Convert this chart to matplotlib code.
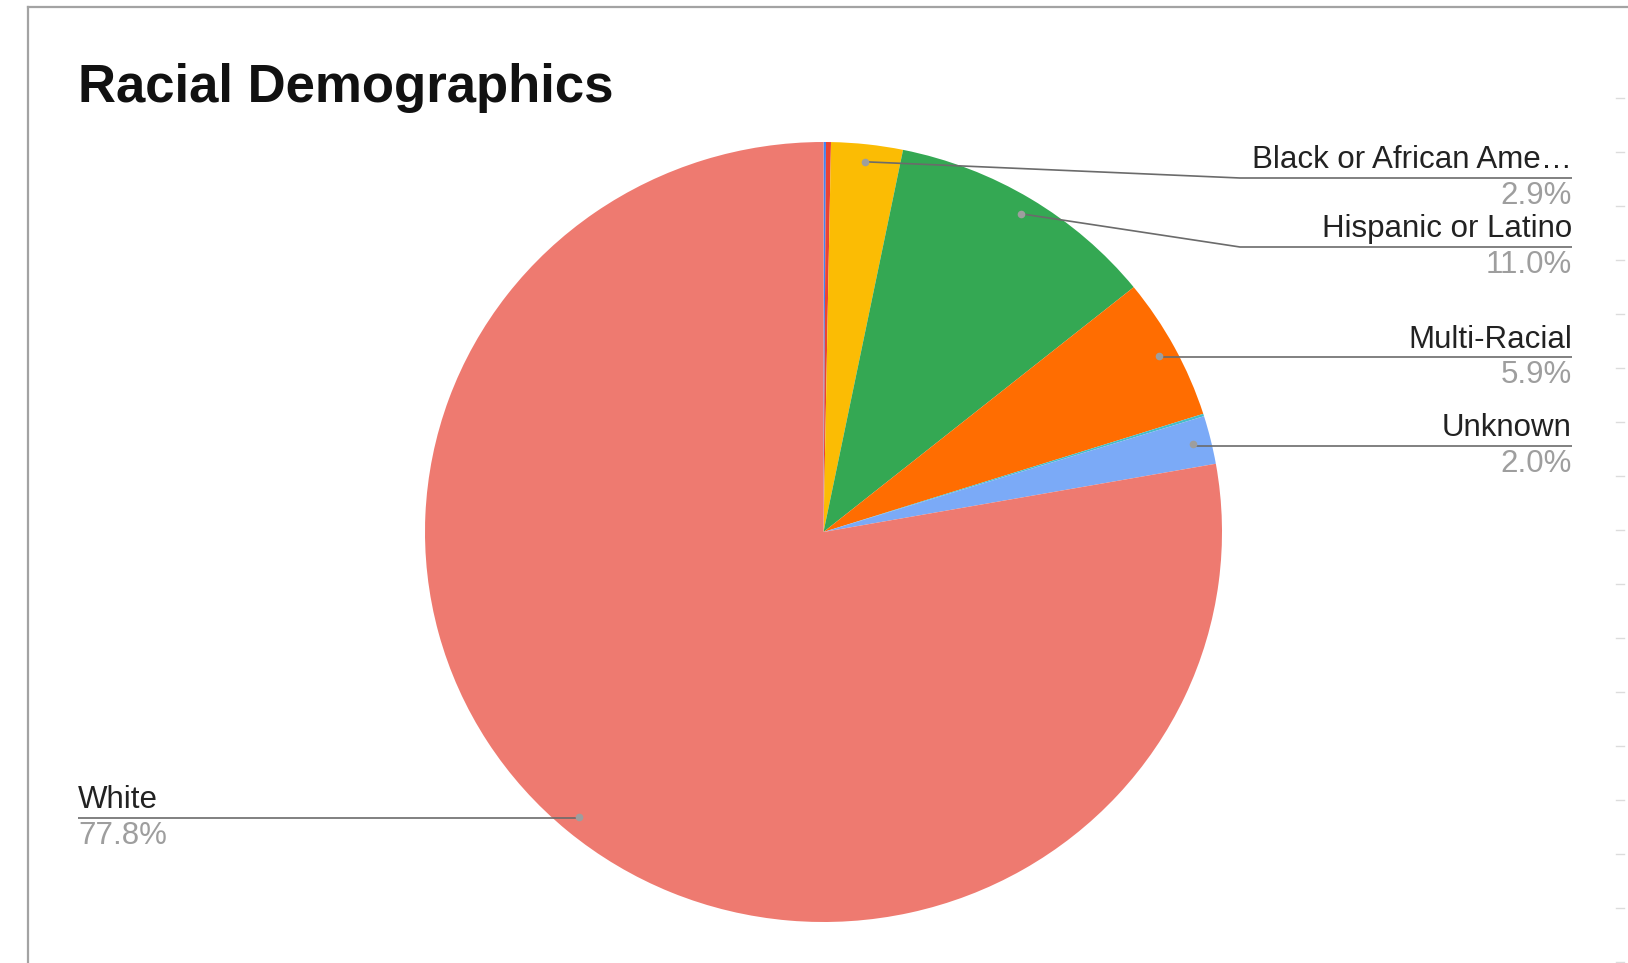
import numpy as np
import matplotlib.pyplot as plt

# data (percent of students), in sheet order
races = ["American Indian or Alaska Native", "Asian", "Black or African American",
         "Hispanic or Latino", "Multi-Racial", "Native Hawaiian or Other Pacific Islander",
         "Unknown", "White"]
shares = [0.1, 0.2, 2.9, 11.0, 5.9, 0.1, 2.0, 77.8]
colors = ["#4285F4", "#EA4335", "#FBBC04", "#34A853", "#FF6D01", "#46BDC6", "#7BAAF7", "#EE7A70"]

W, H = 1628, 963
plt.rcParams['font.family'] = ['Liberation Sans', 'DejaVu Sans']

fig = plt.figure(figsize=(W / 100, H / 100), dpi=100)
fig.patch.set_facecolor("white")

# overlay in pixel coordinates (y down) for frame, title and labels
over = fig.add_axes([0, 0, 1, 1], zorder=2)
over.set_xlim(0, W)
over.set_ylim(H, 0)
over.axis("off")

# pie box in pixels: left, top, right, bottom
px0, py0, px1, py1 = 425, 142, 1222, 922
ax = fig.add_axes([px0 / W, (H - py1) / H, (px1 - px0) / W, (py1 - py0) / H], zorder=1)
wedges, _ = ax.pie(shares, colors=colors, startangle=90, counterclock=False, radius=1)
ax.set_aspect("auto")
ax.set_xlim(-1, 1)
ax.set_ylim(-1, 1)
ax.axis("off")

# chart frame (screenshot border)
over.plot([28, 28], [7, H], color="#a3a3a3", lw=1.6, clip_on=False)
over.plot([28, W], [7, 7], color="#a3a3a3", lw=1.6, clip_on=False)
for y in np.arange(98, H, 54):
    over.plot([W - 12, W - 4], [y, y], color="#dcdcdc", lw=1)

over.text(78, 102, "Racial Demographics", fontsize=38, fontweight="bold",
          color="#111111", ha="left", va="baseline")

# label layout: y of the underline for each labelled slice, and the bend x
line_y = {"Black or African American": 178, "Hispanic or Latino": 247,
          "Multi-Racial": 357, "Unknown": 446, "White": 818}
right_x, left_x, bend_x = 1572, 78, 1240

fig.canvas.draw()
to_over = over.transData.inverted()
for w, name, val in zip(wedges, races, shares):
    if val < 1:
        continue
    mid = np.deg2rad((w.theta1 + w.theta2) / 2)
    dx, dy = ax.transData.transform((0.955 * np.cos(mid), 0.955 * np.sin(mid)))
    x, y = to_over.transform((dx, dy))
    ly = line_y[name]
    label = name if len(name) <= 20 else name[:20] + "…"
    if x > (px0 + px1) / 2:
        if abs(y - ly) > 3:
            xs, ys = [x, bend_x, right_x], [y, ly, ly]
        else:
            xs, ys = [x, right_x], [ly, ly]
        tx, ha = right_x, "right"
    else:
        xs, ys = [x, left_x], [ly, ly]
        tx, ha = left_x, "left"
    over.plot(xs, ys, color="#6b6b6b", lw=1.2, solid_capstyle="butt")
    over.plot([x], [y], "o", color="#9e9e9e", ms=5.5, mec="none")
    over.text(tx, ly - 2.5, label, fontsize=22.5, color="#222222", ha=ha, va="bottom")
    over.text(tx, ly + 3, f"{val:.1f}%", fontsize=22.5, color="#9e9e9e", ha=ha, va="top")

fig.savefig("out.png", dpi=100)
